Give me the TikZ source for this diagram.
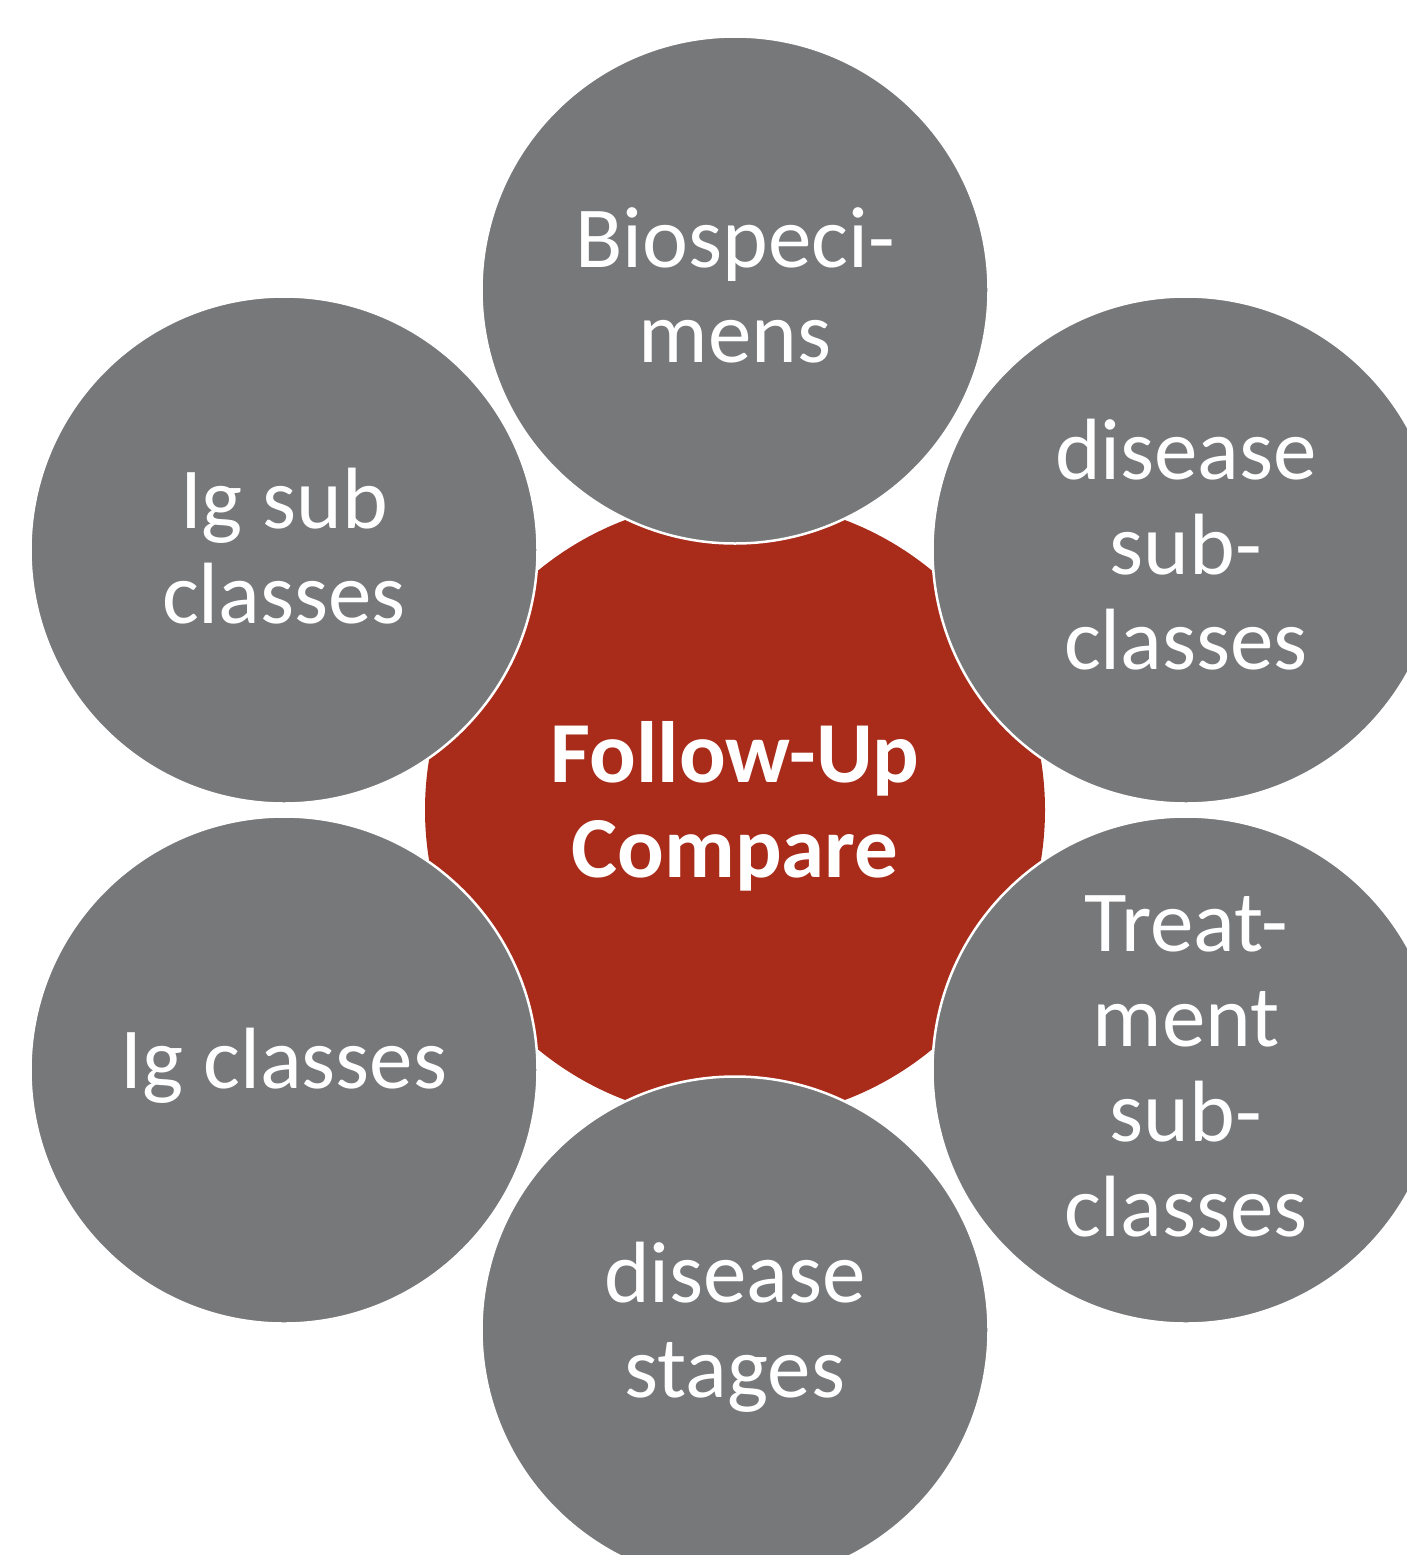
\documentclass[tikz,border=0pt]{standalone}
\usepackage{fontspec}
\setmainfont{Carlito}
\definecolor{cred}{HTML}{A92B1A}
\definecolor{cgray}{HTML}{77787A}
\begin{document}
\begin{tikzpicture}[x=1pt,y=-1pt,
  hub/.style={circle,fill=cred,minimum size=620pt,inner sep=0pt,text=white,align=center,font=\fontsize{87}{95}\selectfont\bfseries},
  sat/.style={circle,fill=cgray,draw=white,line width=2.5pt,minimum size=507pt,inner sep=0pt,text=white,align=center,font=\fontsize{87}{95}\selectfont},
  lbl/.style={text=white,align=center,font=\fontsize{87}{95}\selectfont,inner sep=0pt}]
\useasboundingbox (0,0) rectangle (1406,1555);
\node[hub] (c) at (735,810) {};
\node[lbl,font=\fontsize{87}{95}\selectfont\bfseries] (ct) at (735,806) {Follow-Up\\Compare};
\node[sat] (t) at (735,290) {};
\node[sat] (tr) at (1186,550) {};
\node[sat] (br) at (1186,1070) {};
\node[sat] (b) at (735,1330) {};
\node[sat] (bl) at (284,1070) {};
\node[sat] (tl) at (284,550) {};
\node[lbl] (tt) at (735,285) {Biospeci-\\mens};
\node[lbl] (trt) at (1186,545) {disease\\sub-\\classes};
\node[lbl] (brt) at (1186,1066) {Treat-\\ment\\sub-\\classes};
\node[lbl] (bt) at (735,1327) {disease\\stages};
\node[lbl] (blt) at (284,1066) {Ig classes};
\node[lbl] (tlt) at (284,546) {Ig sub\\classes};
\end{tikzpicture}
\end{document}
